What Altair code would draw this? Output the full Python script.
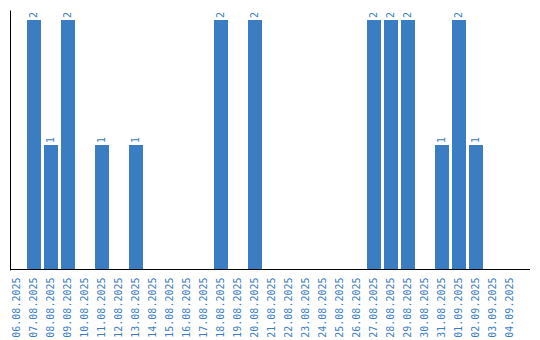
import altair as alt
import pandas as pd

dates = ["06.08.2025","07.08.2025","08.08.2025","09.08.2025","10.08.2025","11.08.2025",
         "12.08.2025","13.08.2025","14.08.2025","15.08.2025","16.08.2025","17.08.2025",
         "18.08.2025","19.08.2025","20.08.2025","21.08.2025","22.08.2025","23.08.2025",
         "24.08.2025","25.08.2025","26.08.2025","27.08.2025","28.08.2025","29.08.2025",
         "30.08.2025","31.08.2025","01.09.2025","02.09.2025","03.09.2025","04.09.2025"]
counts = [0,2,1,2,0,1,0,1,0,0,0,0,2,0,2,0,0,0,0,0,0,2,2,2,0,1,2,1,0,0]

df = pd.DataFrame({"date": dates, "count": counts})
df["label"] = df["count"].apply(lambda v: str(v) if v > 0 else "")

color = "#3b7dc2"
font = "DejaVu Sans Mono"

x = alt.X("date:N", sort=dates,
          scale=alt.Scale(paddingInner=3 / 17, paddingOuter=0, align=0),
          axis=alt.Axis(title=None, labelAngle=-90, labelColor=color, labelFont=font,
                        labelFontSize=10, ticks=False, domain=False,
                        labelPadding=7))
y = alt.Y("count:Q", scale=alt.Scale(domain=[0, 2.08], nice=False),
          axis=alt.Axis(title=None, labels=False, ticks=False, grid=False,
                        domainColor="black", domainWidth=1))

bars = alt.Chart(df).mark_bar(color=color).encode(x=x, y=y)
text = alt.Chart(df).mark_text(angle=270, align="left", baseline="middle", dx=2,
                               color=color, font=font, fontSize=10).encode(
    x=alt.X("date:N", sort=dates), y="count:Q", text="label:N")
baseline = alt.Chart(df).mark_rule(color="black", strokeWidth=1).encode(
    x=alt.value(0), x2=alt.value(520), y=alt.value(259.5))

chart = (bars + text + baseline).properties(
    width=507, height=260,
    autosize=alt.AutoSizeParams(type="none"),
    padding={"left": 10, "top": 10, "right": 23, "bottom": 70},
).configure_view(stroke=None).configure_axis(grid=False)

chart.save("out.html", embed_options={"renderer": "svg", "actions": False})
